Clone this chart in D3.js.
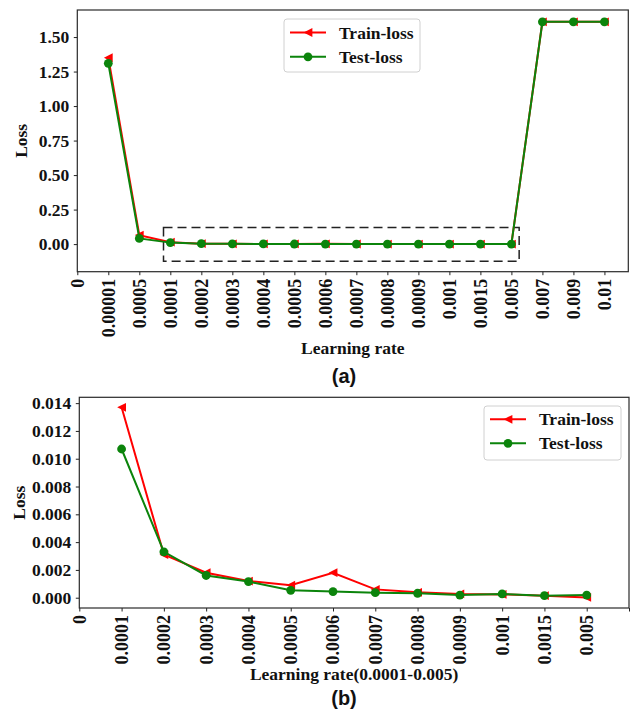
<!DOCTYPE html>
<html>
<head>
<meta charset="utf-8">
<script src="https://cdn.jsdelivr.net/npm/d3@7"></script>
<style>
  html, body { margin: 0; padding: 0; background: #fff; }
  svg { display: block; }
  .serif { font-family: "Liberation Serif", "Times New Roman", serif; font-weight: bold; }
  .sans { font-family: "Liberation Sans", Arial, sans-serif; font-weight: bold; }
</style>
</head>
<body>
<svg id="fig" width="632" height="711"></svg>
<script>
// ---- Panel (a): full learning-rate sweep ----
const ratesA = ["0", "0.00001", "0.0005", "0.0001", "0.0002", "0.0003", "0.0004", "0.0005",
  "0.0006", "0.0007", "0.0008", "0.0009", "0.001", "0.0015", "0.005", "0.007", "0.009", "0.01"];
const trainLossA = [1.35, 0.065, 0.0137, 0.0031, 0.0018, 0.0012, 0.0009, 0.0018, 0.0006,
  0.00039, 0.00027, 0.00024, 0.00015, 0.00002, 1.61, 1.61, 1.61];
const testLossA = [1.31, 0.041, 0.0107, 0.0033, 0.0016, 0.00116, 0.00053, 0.00044, 0.00036,
  0.00032, 0.00019, 0.00027, 0.00015, 0.00019, 1.61, 1.61, 1.61];
const yTicksA = [0, 0.25, 0.5, 0.75, 1.0, 1.25, 1.5];
// zoom window drawn as a dashed box: [x0, x1] in category index, [y0, y1] in loss
const zoomBoxX = [2.78, 14.25];
const zoomBoxY = [-0.125, 0.12];

// ---- Panel (b): zoom on 0.0001 - 0.005 ----
const ratesB = ["0", "0.0001", "0.0002", "0.0003", "0.0004", "0.0005", "0.0006", "0.0007",
  "0.0008", "0.0009", "0.001", "0.0015", "0.005", ""];
const trainLossB = [0.0137, 0.0031, 0.0018, 0.0012, 0.0009, 0.0018, 0.0006, 0.00039,
  0.00027, 0.00024, 0.00015, 0.00002];
const testLossB = [0.0107, 0.0033, 0.0016, 0.00116, 0.00053, 0.00044, 0.00036, 0.00032,
  0.00019, 0.00027, 0.00015, 0.00019];
const yTicksB = [0, 0.002, 0.004, 0.006, 0.008, 0.010, 0.012, 0.014];

const seriesNames = ["Train-loss", "Test-loss"];
const RED = "#ff0000";
const GREEN = "#0b840b";

const svg = d3.select("#fig");

function trianglePath(s) {
  // left-pointing triangle
  return `M${-s},0L${s},${-s}L${s},${s}Z`;
}

function drawPanel(cfg) {
  const g = svg.append("g");
  const x = d3.scaleLinear().domain(cfg.xDomain).range([cfg.left, cfg.right]);
  const y = d3.scaleLinear().domain(cfg.yDomain).range([cfg.bottom, cfg.top]);

  // y axis
  const ya = g.append("g").attr("transform", `translate(${cfg.left},0)`)
    .call(d3.axisLeft(y).tickValues(cfg.yTicks).tickFormat(cfg.yFormat).tickSize(3.5).tickPadding(4.5));
  ya.select(".domain").remove();
  ya.selectAll(".tick line").attr("stroke", "#222").attr("stroke-width", 1);
  ya.selectAll(".tick text").attr("class", "serif").attr("font-size", 17.5).attr("fill", "#111");

  // x axis with rotated labels
  const xa = g.append("g").attr("transform", `translate(0,${cfg.bottom})`)
    .call(d3.axisBottom(x).tickValues(d3.range(cfg.labels.length)).tickFormat(i => cfg.labels[i]).tickSize(3.5));
  xa.select(".domain").remove();
  xa.selectAll(".tick line").attr("stroke", "#222").attr("stroke-width", 1);
  xa.selectAll(".tick text")
    .attr("class", "serif").attr("font-size", 18).attr("fill", "#111")
    .attr("transform", "rotate(-90)")
    .attr("x", -7).attr("y", 0).attr("dy", "0.33em")
    .attr("text-anchor", "end");

  // frame
  g.append("rect")
    .attr("x", cfg.left).attr("y", cfg.top)
    .attr("width", cfg.right - cfg.left).attr("height", cfg.bottom - cfg.top)
    .attr("fill", "none").attr("stroke", "#2a2a2a").attr("stroke-width", 1.2);

  if (cfg.box) {
    g.append("rect")
      .attr("x", x(cfg.box.x[0])).attr("y", y(cfg.box.y[1]))
      .attr("width", x(cfg.box.x[1]) - x(cfg.box.x[0]))
      .attr("height", y(cfg.box.y[0]) - y(cfg.box.y[1]))
      .attr("fill", "none").attr("stroke", "#222").attr("stroke-width", 1.5)
      .attr("stroke-dasharray", "9,5");
  }

  const line = d3.line().x((d, i) => x(i + 1)).y(d => y(d));

  // train series
  g.append("path").datum(cfg.train).attr("d", line)
    .attr("fill", "none").attr("stroke", RED).attr("stroke-width", 2);
  g.selectAll(".tri").data(cfg.train).enter().append("path")
    .attr("d", trianglePath(4.4))
    .attr("transform", (d, i) => `translate(${x(i + 1)},${y(d)})`)
    .attr("fill", RED);

  // test series
  g.append("path").datum(cfg.test).attr("d", line)
    .attr("fill", "none").attr("stroke", GREEN).attr("stroke-width", 2);
  g.selectAll(".dot").data(cfg.test).enter().append("circle")
    .attr("cx", (d, i) => x(i + 1)).attr("cy", d => y(d)).attr("r", 4.4)
    .attr("fill", GREEN);

  // axis titles
  g.append("text").attr("class", "serif").attr("font-size", 17.5).attr("fill", "#111")
    .attr("text-anchor", "middle")
    .attr("x", (cfg.left + cfg.right) / 2).attr("y", cfg.xTitleY)
    .text(cfg.xTitle);
  g.append("text").attr("class", "serif").attr("font-size", 17.5).attr("fill", "#111")
    .attr("text-anchor", "middle")
    .attr("transform", `translate(${cfg.yTitleX},${(cfg.top + cfg.bottom) / 2}) rotate(-90)`)
    .text("Loss");

  // panel tag
  g.append("text").attr("class", "sans").attr("font-size", 20).attr("fill", "#111")
    .attr("text-anchor", "middle")
    .attr("x", 344).attr("y", cfg.tagY)
    .text(cfg.tag);

  // legend
  const L = cfg.legend;
  const lg = g.append("g");
  lg.append("rect").attr("x", L.x).attr("y", L.y).attr("width", L.w).attr("height", L.h)
    .attr("rx", 3).attr("fill", "#fff").attr("fill-opacity", 0.85)
    .attr("stroke", "#d0d0d0").attr("stroke-width", 1);
  const colors = [RED, GREEN];
  seriesNames.forEach((name, k) => {
    const cy = L.y + L.row0 + k * L.rowGap;
    lg.append("line").attr("x1", L.x + 6).attr("x2", L.x + 42).attr("y1", cy).attr("y2", cy)
      .attr("stroke", colors[k]).attr("stroke-width", 2);
    if (k === 0) {
      lg.append("path").attr("d", trianglePath(4.4))
        .attr("transform", `translate(${L.x + 24},${cy})`).attr("fill", RED);
    } else {
      lg.append("circle").attr("cx", L.x + 24).attr("cy", cy).attr("r", 4.4).attr("fill", GREEN);
    }
    lg.append("text").attr("class", "serif").attr("font-size", 17.5).attr("fill", "#111")
      .attr("x", L.x + 55).attr("y", cy).attr("dy", "0.35em").text(name);
  });
}

drawPanel({
  left: 77.3, right: 628.3, top: 10, bottom: 271.7,
  xDomain: [0, 17.77], yDomain: [-0.2, 1.696],
  labels: ratesA, yTicks: yTicksA, yFormat: d3.format(".2f"),
  train: trainLossA, test: testLossA,
  box: { x: zoomBoxX, y: zoomBoxY },
  xTitle: "Learning rate", xTitleY: 354, yTitleX: 27,
  tag: "(a)", tagY: 383,
  legend: { x: 284, y: 19, w: 136, h: 53, row0: 13.5, rowGap: 24.3 }
});

drawPanel({
  left: 79.3, right: 629, top: 397.3, bottom: 608,
  xDomain: [0, 13], yDomain: [-0.00074, 0.01442],
  labels: ratesB, yTicks: yTicksB, yFormat: d3.format(".3f"),
  train: trainLossB, test: testLossB,
  box: null,
  xTitle: "Learning rate(0.0001-0.005)", xTitleY: 680, yTitleX: 25,
  tag: "(b)", tagY: 705,
  legend: { x: 484, y: 406, w: 137, h: 54, row0: 13.3, rowGap: 24 }
});
</script>
</body>
</html>
